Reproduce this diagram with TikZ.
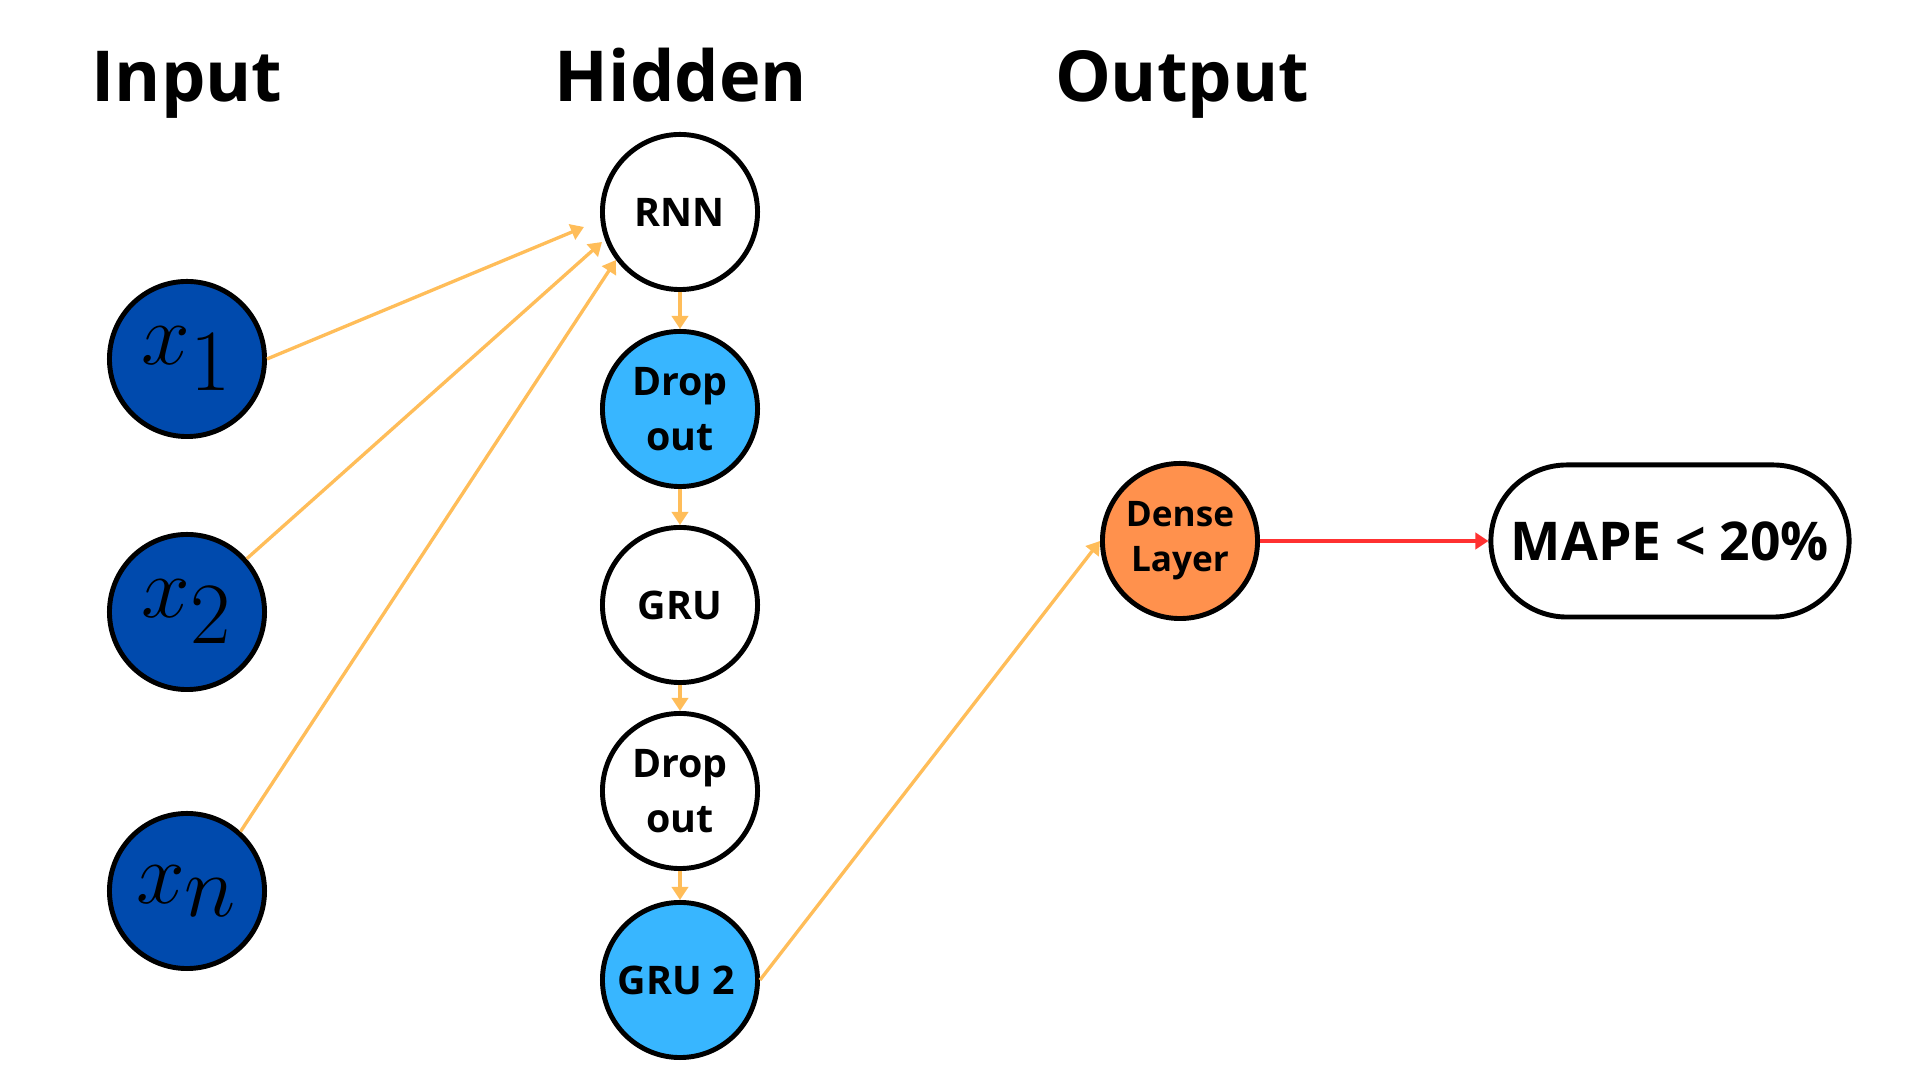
\documentclass[tikz,border=0pt]{standalone}
\usepackage{fontspec}
\setmainfont{Open Sans}
\usetikzlibrary{arrows.meta,shapes.geometric}
\definecolor{inblue}{HTML}{004AAD}
\definecolor{lightblue}{HTML}{38B6FF}
\definecolor{denseorange}{HTML}{FF914D}
\definecolor{linkorange}{HTML}{FFBD59}
\definecolor{linkred}{HTML}{FF3131}
\begin{document}
\begin{tikzpicture}[x=0.01cm, y=-0.01cm,
    inputnode/.style={circle, draw, line width=1.4pt, fill=inblue, minimum size=1.55cm, inner sep=0pt,
        font=\fontsize{33}{35}\selectfont},
    layer/.style={circle, draw, line width=1.4pt, fill=white, minimum size=1.55cm, inner sep=0pt,
        align=center, font=\fontsize{11.2}{15.6}\selectfont\bfseries},
    title/.style={anchor=base, font=\fontsize{20}{24}\selectfont\bfseries},
    link/.style={linkorange, line width=0.95pt, -{Triangle[length=3.7pt,width=4.6pt]}}]
    \useasboundingbox (0,0) rectangle (1920,1080);

    % Column titles
    \node[title] (tin) at (187,102) {Input};
    \node[title] (thid) at (681,102) {Hidden};
    \node[title] (tout) at (1182,102) {Output};

    % Inputs
    \node[inputnode] (x1) at (187,359) {$x_1$};
    \node[inputnode] (x2) at (187,612) {$x_2$};
    \node[inputnode] (xn) at (187,891) {$x_n$};

    % Hidden layers
    \node[layer] (rnn) at (680,212) {RNN};
    \node[layer, fill=lightblue] (drop1) at (680,409) {Drop\\out};
    \node[layer] (gru) at (680,605) {GRU};
    \node[layer] (drop2) at (680,791) {Drop\\out};
    \node[layer, fill=lightblue] (gru2) at (680,980) {\hspace*{-2pt}GRU 2};

    % Output
    \node[layer, fill=denseorange, font=\fontsize{10}{12.8}\selectfont\bfseries] (dense) at (1180,541) {Dense\\Layer};
    \node[draw, line width=1.4pt, rounded corners=0.76cm, minimum width=3.58cm, minimum height=1.52cm,
        font=\fontsize{15.2}{18}\selectfont\bfseries] (mape) at (1670,541) {MAPE < 20\%};

    % Arrow ends near RNN
    \coordinate (r1) at (584,227);
    \coordinate (r2) at (602,242);
    \coordinate (rn) at (616,260);

    % Connections
    \draw[link] (x1.east) -- (r1);
    \draw[link] (x2) -- (r2);
    \draw[link] (xn.48) -- (rn);
    \draw[link] (rnn) -- (drop1);
    \draw[link] (drop1) -- (gru);
    \draw[link] (gru) -- (drop2);
    \draw[link] (drop2) -- (gru2);
    \draw[link] (gru2.east) -- (dense.west);
    \draw[link, linkred] (dense.east) -- (mape.west);
\end{tikzpicture}
\end{document}
